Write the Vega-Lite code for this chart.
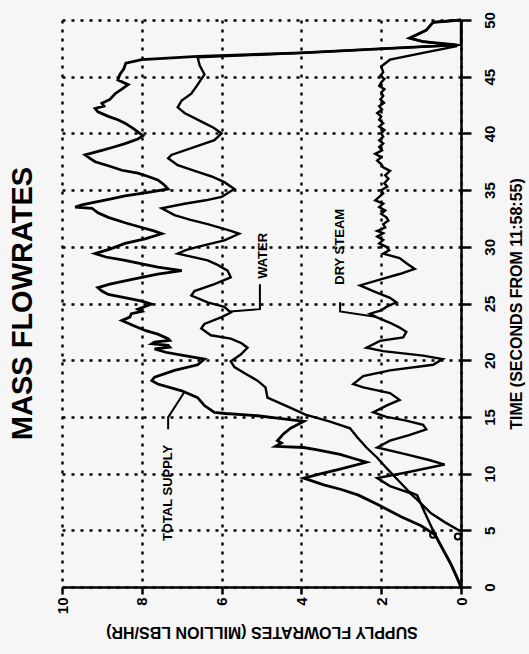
{
  "$schema": "https://vega.github.io/schema/vega-lite/v6.json",
  "width": 399,
  "height": 567,
  "autosize": "none",
  "padding": {"left": 62, "top": 20, "right": 68, "bottom": 67},
  "background": "#f6f6f6",
  "title": {"text": "MASS FLOWRATES", "orient": "left", "angle": 270, "anchor": "middle", "fontSize": 29, "font": "Liberation Sans", "fontWeight": "bold", "offset": 17, "color": "black"},
  "config": {
    "view": {"stroke": null},
    "axis": {"domainColor": "black", "domainWidth": 2.5, "tickColor": "black", "tickWidth": 2.5, "gridColor": "black", "gridDash": [3, 6], "gridWidth": 2.4, "gridOpacity": 1, "labelColor": "black", "titleColor": "black", "labelFont": "Liberation Sans", "titleFont": "Liberation Sans", "labelFontWeight": "bold", "titleFontWeight": "bold"}
  },
  "datasets": {
    "total": [
      {"t":0,"f":0},{"t":1,"f":0.12},{"t":2,"f":0.25},{"t":3.3,"f":0.45},{"t":4.6,"f":0.65},{"t":5.4,"f":1.0},{"t":6.2,"f":1.5},{"t":7.2,"f":2.05},{"t":8.1,"f":2.57},{"t":8.6,"f":3.0},{"t":9.0,"f":3.44},{"t":9.6,"f":3.94},{"t":10.0,"f":3.5},{"t":10.4,"f":3.03},{"t":11.0,"f":2.37},{"t":11.4,"f":2.75},{"t":11.7,"f":3.03},{"t":12.1,"f":3.6},{"t":12.3,"f":3.94},{"t":12.4,"f":4.65},{"t":12.7,"f":4.5},{"t":12.9,"f":4.6},{"t":13.5,"f":4.45},{"t":14.0,"f":4.27},{"t":14.6,"f":3.94},{"t":14.9,"f":4.6},{"t":15.1,"f":5.1},{"t":15.3,"f":5.9},{"t":15.4,"f":6.18},{"t":16.0,"f":6.43},{"t":16.7,"f":6.6},{"t":17.3,"f":7.0},{"t":17.9,"f":7.6},{"t":18.2,"f":7.75},{"t":18.5,"f":7.68},{"t":19.1,"f":7.18},{"t":19.6,"f":6.6},{"t":20.1,"f":6.43},{"t":20.4,"f":6.93},{"t":20.7,"f":7.4},{"t":21.0,"f":7.68},{"t":21.15,"f":7.3},{"t":21.3,"f":7.34},{"t":21.45,"f":7.75},{"t":21.6,"f":7.68},{"t":21.75,"f":7.3},{"t":21.9,"f":7.34},{"t":22.3,"f":7.6},{"t":22.6,"f":7.9},{"t":23.0,"f":8.17},{"t":23.5,"f":8.5},{"t":23.8,"f":8.3},{"t":24.1,"f":8.26},{"t":24.3,"f":8.0},{"t":24.5,"f":8.1},{"t":24.95,"f":7.76},{"t":25.2,"f":8.0},{"t":25.5,"f":8.4},{"t":25.8,"f":8.84},{"t":26.1,"f":9.0},{"t":26.4,"f":9.1},{"t":26.7,"f":8.8},{"t":27.0,"f":8.42},{"t":27.3,"f":8.0},{"t":27.6,"f":7.6},{"t":27.9,"f":7.0},{"t":28.2,"f":7.6},{"t":28.5,"f":8.0},{"t":28.8,"f":8.42},{"t":29.1,"f":8.9},{"t":29.4,"f":9.17},{"t":29.8,"f":8.8},{"t":30.3,"f":8.42},{"t":30.7,"f":7.92},{"t":31.15,"f":7.5},{"t":31.4,"f":7.7},{"t":31.7,"f":8.0},{"t":32.1,"f":8.4},{"t":32.6,"f":8.84},{"t":33.0,"f":9.1},{"t":33.4,"f":9.25},{"t":33.5,"f":9.67},{"t":33.7,"f":9.5},{"t":33.95,"f":9.17},{"t":34.2,"f":8.8},{"t":34.5,"f":8.42},{"t":34.8,"f":7.84},{"t":35.1,"f":7.34},{"t":35.5,"f":7.45},{"t":35.9,"f":7.6},{"t":36.2,"f":7.84},{"t":36.5,"f":8.1},{"t":36.75,"f":8.5},{"t":37.1,"f":8.8},{"t":37.5,"f":9.17},{"t":37.8,"f":9.3},{"t":38.1,"f":9.42},{"t":38.5,"f":9.0},{"t":38.8,"f":8.7},{"t":39.1,"f":8.42},{"t":39.5,"f":8.1},{"t":39.8,"f":7.97},{"t":40.0,"f":8.05},{"t":40.4,"f":8.2},{"t":40.9,"f":8.42},{"t":41.2,"f":8.6},{"t":41.5,"f":8.84},{"t":41.9,"f":9.1},{"t":42.2,"f":9.17},{"t":42.4,"f":8.95},{"t":42.65,"f":9.0},{"t":43.0,"f":8.8},{"t":43.5,"f":8.67},{"t":43.9,"f":8.5},{"t":44.3,"f":8.34},{"t":44.7,"f":8.6},{"t":45.2,"f":8.55},{"t":45.7,"f":8.45},{"t":46.2,"f":8.4},{"t":46.5,"f":8.0},{"t":46.8,"f":6.6},{"t":47.1,"f":4.0},{"t":47.5,"f":1.8},{"t":47.8,"f":0.1},{"t":48.1,"f":0.95},{"t":48.4,"f":1.29},{"t":49.1,"f":0.87},{"t":49.8,"f":0.7},{"t":50.0,"f":0}
    ],
    "water": [
      {"t":0,"f":0},{"t":2,"f":0.25},{"t":4.6,"f":0.65},{"t":6.5,"f":0.9},{"t":8.1,"f":1.1},{"t":8.4,"f":1.3},{"t":9.5,"f":1.6},{"t":10.5,"f":1.87},{"t":11.4,"f":2.1},{"t":12.3,"f":2.37},{"t":13.2,"f":2.6},{"t":14.0,"f":2.78},{"t":14.6,"f":3.3},{"t":15.2,"f":3.9},{"t":15.8,"f":4.27},{"t":16.7,"f":4.85},{"t":17.6,"f":4.9},{"t":18.2,"f":5.1},{"t":18.8,"f":5.4},{"t":19.4,"f":5.68},{"t":19.9,"f":5.77},{"t":20.5,"f":5.52},{"t":21.1,"f":5.35},{"t":21.5,"f":5.5},{"t":21.9,"f":5.77},{"t":22.2,"f":6.27},{"t":22.8,"f":6.51},{"t":23.2,"f":6.43},{"t":23.8,"f":6.0},{"t":24.2,"f":5.77},{"t":24.7,"f":5.93},{"t":25.1,"f":6.35},{"t":25.7,"f":6.76},{"t":26.1,"f":6.68},{"t":26.7,"f":6.18},{"t":27.3,"f":5.77},{"t":27.9,"f":5.85},{"t":28.4,"f":6.1},{"t":28.8,"f":6.35},{"t":29.4,"f":7.1},{"t":29.7,"f":6.9},{"t":30.0,"f":6.6},{"t":30.56,"f":5.93},{"t":31.15,"f":5.56},{"t":31.4,"f":5.77},{"t":32.0,"f":6.35},{"t":32.4,"f":6.8},{"t":32.8,"f":7.18},{"t":33.4,"f":7.5},{"t":33.8,"f":6.93},{"t":34.1,"f":6.4},{"t":34.4,"f":6.0},{"t":35.1,"f":5.68},{"t":35.7,"f":5.93},{"t":36.2,"f":6.25},{"t":36.6,"f":6.6},{"t":37.2,"f":7.1},{"t":37.8,"f":7.34},{"t":38.1,"f":7.26},{"t":38.7,"f":6.76},{"t":39.4,"f":6.18},{"t":40.0,"f":6.0},{"t":40.5,"f":6.2},{"t":40.9,"f":6.43},{"t":41.8,"f":6.93},{"t":42.3,"f":7.1},{"t":42.9,"f":7.0},{"t":43.5,"f":6.76},{"t":44.3,"f":6.6},{"t":45.2,"f":6.43},{"t":46.0,"f":6.55},{"t":46.7,"f":6.6},{"t":47.1,"f":4.0},{"t":47.5,"f":1.8},{"t":47.8,"f":0},{"t":50,"f":0}
    ],
    "steam": [
      {"t":4.9,"f":0},{"t":5.7,"f":0.4},{"t":6.5,"f":0.75},{"t":7.7,"f":1.1},{"t":8.3,"f":1.29},{"t":8.9,"f":1.78},{"t":9.6,"f":2.1},{"t":10.1,"f":1.37},{"t":10.8,"f":0.41},{"t":11.2,"f":0.8},{"t":11.7,"f":1.37},{"t":12.3,"f":2.1},{"t":12.9,"f":1.78},{"t":13.4,"f":1.3},{"t":13.9,"f":0.87},{"t":14.3,"f":0.95},{"t":14.7,"f":1.4},{"t":15.0,"f":1.87},{"t":15.4,"f":2.2},{"t":16.0,"f":1.87},{"t":16.5,"f":1.54},{"t":17.1,"f":1.78},{"t":17.6,"f":2.45},{"t":17.9,"f":2.7},{"t":18.6,"f":2.45},{"t":19.1,"f":1.78},{"t":19.6,"f":0.7},{"t":20.1,"f":0.46},{"t":20.4,"f":0.95},{"t":20.8,"f":1.95},{"t":21.1,"f":2.37},{"t":21.7,"f":2.03},{"t":22.0,"f":1.45},{"t":22.5,"f":1.37},{"t":22.9,"f":1.55},{"t":23.3,"f":1.78},{"t":23.8,"f":2.12},{"t":24.1,"f":2.28},{"t":24.4,"f":2.0},{"t":24.7,"f":1.87},{"t":25.1,"f":1.62},{"t":25.5,"f":1.78},{"t":26.1,"f":2.2},{"t":26.6,"f":2.53},{"t":27.2,"f":1.95},{"t":27.6,"f":1.54},{"t":28.05,"f":1.16},{"t":28.5,"f":1.35},{"t":29.0,"f":1.54},{"t":29.4,"f":1.95},{"t":29.7,"f":1.8},{"t":30.0,"f":1.87},{"t":30.3,"f":2.05},{"t":30.6,"f":1.95},{"t":30.9,"f":2.1},{"t":31.2,"f":1.95},{"t":31.4,"f":2.1},{"t":31.7,"f":1.9},{"t":32.0,"f":1.95},{"t":32.3,"f":1.82},{"t":32.6,"f":1.87},{"t":32.9,"f":2.0},{"t":33.2,"f":1.9},{"t":33.5,"f":2.05},{"t":33.8,"f":1.95},{"t":34.1,"f":2.15},{"t":34.4,"f":2.05},{"t":34.7,"f":1.95},{"t":35.0,"f":2.0},{"t":35.3,"f":1.85},{"t":35.6,"f":1.92},{"t":36.0,"f":1.82},{"t":36.3,"f":1.9},{"t":36.7,"f":1.78},{"t":37.0,"f":1.95},{"t":37.3,"f":2.0},{"t":37.6,"f":2.1},{"t":37.9,"f":2.0},{"t":38.2,"f":2.15},{"t":38.5,"f":1.98},{"t":38.8,"f":2.05},{"t":39.1,"f":1.95},{"t":39.4,"f":2.05},{"t":39.7,"f":1.95},{"t":40.0,"f":2.0},{"t":40.3,"f":1.92},{"t":40.6,"f":2.05},{"t":40.9,"f":1.95},{"t":41.2,"f":2.05},{"t":41.5,"f":2.0},{"t":41.8,"f":2.1},{"t":42.1,"f":1.98},{"t":42.4,"f":2.05},{"t":42.7,"f":1.93},{"t":43.0,"f":2.02},{"t":43.3,"f":1.95},{"t":43.6,"f":2.0},{"t":43.9,"f":1.92},{"t":44.2,"f":2.05},{"t":44.5,"f":2.0},{"t":44.8,"f":1.92},{"t":45.1,"f":2.02},{"t":45.4,"f":1.95},{"t":45.9,"f":2.0},{"t":46.5,"f":1.78},{"t":47.1,"f":0.95},{"t":47.7,"f":0.1},{"t":48.1,"f":0.95},{"t":48.4,"f":1.29},{"t":49.1,"f":0.87},{"t":49.8,"f":0.7},{"t":50.0,"f":0}
    ],
    "labels": [
      {"label": "TOTAL SUPPLY", "f": 7.34, "t": 8.3},
      {"label": "WATER", "f": 4.95, "t": 29.2},
      {"label": "DRY STEAM", "f": 3.03, "t": 30.0}
    ],
    "leaders": [
      {"id": "a", "k": 1, "f": 7.34, "t": 13.9},
      {"id": "a", "k": 2, "f": 7.34, "t": 14.96},
      {"id": "a", "k": 3, "f": 6.92, "t": 17.26},
      {"id": "b", "k": 1, "f": 5.04, "t": 26.7},
      {"id": "b", "k": 2, "f": 5.04, "t": 24.5},
      {"id": "b", "k": 3, "f": 5.79, "t": 24.3},
      {"id": "c", "k": 1, "f": 3.03, "t": 25.1},
      {"id": "c", "k": 2, "f": 3.03, "t": 24.3},
      {"id": "c", "k": 3, "f": 2.11, "t": 23.8}
    ],
    "markers": [
      {"f": 0.7, "t": 4.6},
      {"f": 0.08, "t": 4.45}
    ]
  },
  "encoding": {
    "x": {
      "field": "f", "type": "quantitative",
      "scale": {"domain": [0, 10], "reverse": true, "nice": false, "zero": false},
      "axis": {"orient": "bottom", "values": [0, 2, 4, 6, 8, 10], "labelAngle": 270, "labelAlign": "right", "labelBaseline": "middle", "labelFontSize": 15, "tickSize": 7, "labelPadding": 3, "title": "SUPPLY FLOWRATES (MILLION LBS/HR)", "titleAngle": 180, "titleBaseline": "bottom", "titleFontSize": 16, "titlePadding": 10, "grid": true}
    },
    "y": {
      "field": "t", "type": "quantitative",
      "scale": {"domain": [0, 50], "nice": false},
      "axis": {"orient": "right", "values": [0, 5, 10, 15, 20, 25, 30, 35, 40, 45, 50], "labelAngle": 270, "labelAlign": "center", "labelBaseline": "top", "labelFontSize": 15, "tickSize": 10, "labelPadding": 11, "title": "TIME (SECONDS FROM 11:58:55)", "titleAngle": 270, "titleBaseline": "top", "titleFontSize": 16, "titlePadding": 11, "grid": true}
    }
  },
  "layer": [
    {"data": {"name": "steam"}, "mark": {"type": "line", "color": "black", "strokeWidth": 2.4}, "encoding": {"order": {"field": "t", "type": "quantitative"}}},
    {"data": {"name": "water"}, "mark": {"type": "line", "color": "black", "strokeWidth": 2.4}, "encoding": {"order": {"field": "t", "type": "quantitative"}}},
    {"data": {"name": "total"}, "mark": {"type": "line", "color": "black", "strokeWidth": 2.8}, "encoding": {"order": {"field": "t", "type": "quantitative"}}},
    {"data": {"name": "leaders"}, "mark": {"type": "line", "color": "black", "strokeWidth": 2}, "encoding": {"detail": {"field": "id"}, "order": {"field": "k", "type": "quantitative"}}},
    {"data": {"name": "markers"}, "mark": {"type": "point", "shape": "circle", "filled": false, "color": "black", "strokeWidth": 2, "size": 35, "opacity": 1}},
    {"data": {"name": "labels"}, "mark": {"type": "text", "angle": 270, "align": "center", "baseline": "middle", "font": "Liberation Sans", "fontWeight": "bold", "fontSize": 13, "color": "black"}, "encoding": {"text": {"field": "label"}}}
  ]
}
